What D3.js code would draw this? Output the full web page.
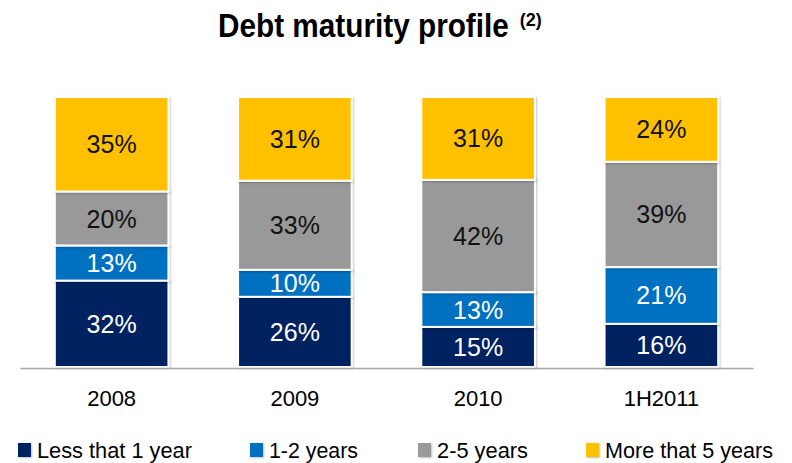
<!DOCTYPE html>
<html><head><meta charset="utf-8">
<script src="https://cdn.jsdelivr.net/npm/d3@7"></script>
<style>body{margin:0;background:#fff}svg{display:block}</style>
</head><body>
<svg id="c" width="792" height="463"></svg>
<script>
const categories = ["2008", "2009", "2010", "1H2011"];
const seriesNames = ["Less that 1 year", "1-2 years", "2-5 years", "More that 5 years"];
const lessThan1 = [32, 26, 15, 16];
const oneToTwo = [13, 10, 13, 21];
const twoToFive = [20, 33, 42, 39];
const moreThan5 = [35, 31, 31, 24];
const colors = ["#002060", "#0070C0", "#999999", "#FFC000"];
const labelColors = ["#ffffff", "#ffffff", "#111111", "#111111"];

const seriesData = [lessThan1, oneToTwo, twoToFive, moreThan5];
const rows = categories.map((c, i) => {
  const r = {cat: c};
  seriesNames.forEach((s, j) => r[s] = seriesData[j][i]);
  return r;
});

const svg = d3.select("#c");
const plotTop = 97, plotBottom = 367;
const x = d3.scaleBand().domain(categories).range([20, 753]).paddingInner(0.38).paddingOuter(0.19);
const y = d3.scaleLinear().domain([0, 1]).range([plotBottom, plotTop]);

const stack = d3.stack().keys(seriesNames).offset(d3.stackOffsetExpand);
const layers = stack(rows);

const defs = svg.append("defs");
const f = defs.append("filter").attr("id", "sh").attr("x", "-10%").attr("y", "-10%").attr("width", "120%").attr("height", "120%");
f.append("feDropShadow").attr("dx", 1).attr("dy", 1).attr("stdDeviation", 1.2).attr("flood-color", "#000").attr("flood-opacity", 0.25);

// title (condensed bold via horizontal scale)
const titleText = svg.append("g").attr("transform", "translate(218,37) scale(0.875,1)")
  .append("text").attr("x", 0).attr("y", 0)
  .attr("font-family", "Liberation Sans, Arial, sans-serif")
  .attr("font-weight", "bold").attr("font-size", 34).attr("fill", "#000")
  .text("Debt maturity profile");
const tw = titleText.node().getComputedTextLength() * 0.875;
svg.append("text").attr("x", 218 + tw + 11).attr("y", 26)
  .attr("font-family", "Liberation Sans, Arial, sans-serif")
  .attr("font-weight", "bold").attr("font-size", 18).attr("fill", "#000")
  .text("(2)");

// bars
const g = svg.append("g");
layers.forEach((layer, j) => {
  g.selectAll(null).data(layer).enter().append("rect")
    .attr("x", d => x(d.data.cat))
    .attr("width", x.bandwidth())
    .attr("y", d => y(d[1]))
    .attr("height", d => y(d[0]) - y(d[1]))
    .attr("fill", colors[j])
    .attr("stroke", "#fff").attr("stroke-width", 2)
    .attr("filter", "url(#sh)");
  g.selectAll(null).data(layer).enter().append("text")
    .attr("x", d => x(d.data.cat) + x.bandwidth() / 2)
    .attr("y", d => (y(d[0]) + y(d[1])) / 2)
    .attr("dy", "0.36em")
    .attr("text-anchor", "middle")
    .attr("font-family", "Liberation Sans, Arial, sans-serif")
    .attr("font-size", 25)
    .attr("fill", labelColors[j])
    .text(d => d.data[seriesNames[j]] + "%");
});

// axis
const ax = svg.append("g").attr("transform", `translate(0,${plotBottom + 1})`)
  .call(d3.axisBottom(x).tickSize(0).tickPadding(22));
ax.select(".domain").attr("stroke", "#a6a6a6").attr("stroke-width", 1.5);
ax.selectAll("text").attr("font-family", "Liberation Sans, Arial, sans-serif").attr("font-size", 22).attr("fill", "#000");

// legend
const legX = [18, 250, 418, 586];
const legW = [155, 89, 91, 168];
const leg = svg.append("g");
seriesNames.forEach((s, j) => {
  leg.append("rect").attr("x", legX[j]).attr("y", 443).attr("width", 13).attr("height", 14)
    .attr("fill", colors[j]).attr("filter", "url(#sh)");
  leg.append("text").attr("x", legX[j] + 19).attr("y", 458)
    .attr("font-family", "Liberation Sans, Arial, sans-serif")
    .attr("font-size", 22).attr("fill", "#000")
    .attr("textLength", legW[j]).attr("lengthAdjust", "spacingAndGlyphs")
    .text(s);
});
</script>
</body></html>
